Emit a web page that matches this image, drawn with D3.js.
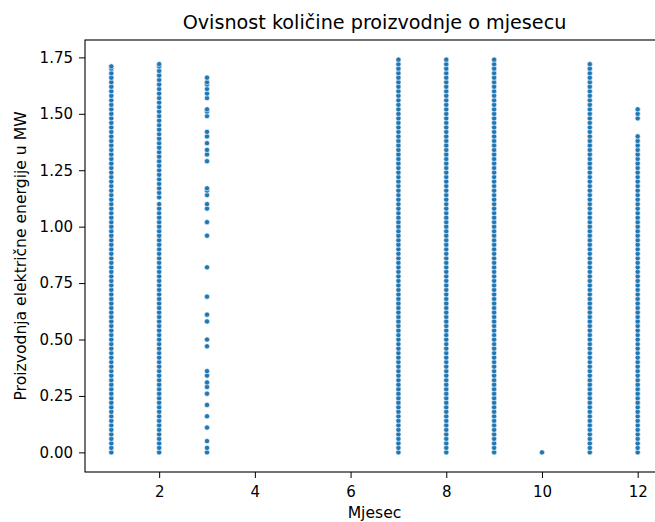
<!DOCTYPE html>
<html>
<head>
<meta charset="utf-8">
<script src="https://cdn.jsdelivr.net/npm/d3@7"></script>
<style>
  html, body { margin: 0; padding: 0; background: #fff; }
  svg { display: block; font-family: "DejaVu Sans", sans-serif; }
</style>
</head>
<body>
<svg id="chart" width="655" height="522"></svg>
<script>
// ---- Data ----
const title = "Ovisnost količine proizvodnje o mjesecu";
const xLabel = "Mjesec";
const yLabel = "Proizvodnja električne energije u MW";
const xTicks = [2, 4, 6, 8, 10, 12];
const yTicks = [0, 0.25, 0.5, 0.75, 1.0, 1.25, 1.5, 1.75];

const month1 = [0,.02,.04,.06,.08,.1,.12,.14,.16,.18,.2,.22,.24,.26,.28,.3,.32,.34,.36,.38,.4,.42,.44,.46,.48,.5,.52,.54,.56,.58,.6,.62,.64,.66,.68,.7,.72,.74,.76,.78,.8,.82,.84,.86,.88,.9,.92,.94,.96,.98,1,1.02,1.04,1.06,1.08,1.1,1.12,1.14,1.16,1.18,1.2,1.22,1.24,1.26,1.28,1.3,1.32,1.34,1.36,1.38,1.4,1.42,1.44,1.46,1.48,1.5,1.52,1.54,1.56,1.58,1.6,1.62,1.64,1.66,1.68,1.7,1.71];
const month2 = [0,.02,.04,.06,.08,.1,.12,.14,.16,.18,.2,.22,.24,.26,.28,.3,.32,.34,.36,.38,.4,.42,.44,.46,.48,.5,.52,.54,.56,.58,.6,.62,.64,.66,.68,.7,.72,.74,.76,.78,.8,.82,.84,.86,.88,.9,.92,.94,.96,.98,1,1.02,1.04,1.06,1.08,1.1,1.13,1.15,1.17,1.19,1.21,1.23,1.25,1.27,1.29,1.31,1.33,1.35,1.37,1.39,1.41,1.43,1.45,1.47,1.49,1.51,1.53,1.55,1.57,1.59,1.61,1.63,1.65,1.67,1.69,1.71,1.72];
const month3 = [0,.02,.05,.11,.16,.21,.26,.29,.31,.34,.36,.47,.5,.58,.61,.69,.82,.96,1.02,1.08,1.1,1.14,1.16,1.17,1.29,1.32,1.34,1.37,1.4,1.42,1.49,1.51,1.52,1.57,1.59,1.61,1.63,1.64,1.66];
const month7 = [0,.02,.04,.06,.08,.1,.12,.14,.16,.18,.2,.22,.24,.26,.28,.3,.32,.34,.36,.38,.4,.42,.44,.46,.48,.5,.52,.54,.56,.58,.6,.62,.64,.66,.68,.7,.72,.74,.76,.78,.8,.82,.84,.86,.88,.9,.92,.94,.96,.98,1,1.02,1.04,1.06,1.08,1.1,1.12,1.14,1.16,1.18,1.2,1.22,1.24,1.26,1.28,1.3,1.32,1.34,1.36,1.38,1.4,1.42,1.44,1.46,1.48,1.5,1.52,1.54,1.56,1.58,1.6,1.62,1.64,1.66,1.68,1.7,1.72,1.74];
const month8 = [0,.02,.04,.06,.08,.1,.12,.14,.16,.18,.2,.22,.24,.26,.28,.3,.32,.34,.36,.38,.4,.42,.44,.46,.48,.5,.52,.54,.56,.58,.6,.62,.64,.66,.68,.7,.72,.74,.76,.78,.8,.82,.84,.86,.88,.9,.92,.94,.96,.98,1,1.02,1.04,1.06,1.08,1.1,1.12,1.14,1.16,1.18,1.2,1.22,1.24,1.26,1.28,1.3,1.32,1.34,1.36,1.38,1.4,1.42,1.44,1.46,1.48,1.5,1.52,1.54,1.56,1.58,1.6,1.62,1.64,1.66,1.68,1.7,1.72,1.74];
const month9 = [0,.02,.04,.06,.08,.1,.12,.14,.16,.18,.2,.22,.24,.26,.28,.3,.32,.34,.36,.38,.4,.42,.44,.46,.48,.5,.52,.54,.56,.58,.6,.62,.64,.66,.68,.7,.72,.74,.76,.78,.8,.82,.84,.86,.88,.9,.92,.94,.96,.98,1,1.02,1.04,1.06,1.08,1.1,1.12,1.14,1.16,1.18,1.2,1.22,1.24,1.26,1.28,1.3,1.32,1.34,1.36,1.38,1.4,1.42,1.44,1.46,1.48,1.5,1.52,1.54,1.56,1.58,1.6,1.62,1.64,1.66,1.68,1.7,1.72,1.74];
const month10 = [0];
const month11 = [0,.02,.04,.06,.08,.1,.12,.14,.16,.18,.2,.22,.24,.26,.28,.3,.32,.34,.36,.38,.4,.42,.44,.46,.48,.5,.52,.54,.56,.58,.6,.62,.64,.66,.68,.7,.72,.74,.76,.78,.8,.82,.84,.86,.88,.9,.92,.94,.96,.98,1,1.02,1.04,1.06,1.08,1.1,1.12,1.14,1.16,1.18,1.2,1.22,1.24,1.26,1.28,1.3,1.32,1.34,1.36,1.38,1.4,1.42,1.44,1.46,1.48,1.5,1.52,1.54,1.56,1.58,1.6,1.62,1.64,1.66,1.68,1.7,1.72];
const month12 = [0,.02,.04,.06,.08,.1,.12,.14,.16,.18,.2,.22,.24,.26,.28,.3,.32,.34,.36,.38,.4,.42,.44,.46,.48,.5,.52,.54,.56,.58,.6,.62,.64,.66,.68,.7,.72,.74,.76,.78,.8,.82,.84,.86,.88,.9,.92,.94,.96,.98,1,1.02,1.04,1.06,1.08,1.1,1.12,1.14,1.16,1.18,1.2,1.22,1.24,1.26,1.28,1.3,1.32,1.34,1.36,1.38,1.4,1.48,1.5,1.52];

const months = [1, 2, 3, 7, 8, 9, 10, 11, 12];
const seriesByMonth = [month1, month2, month3, month7, month8, month9, month10, month11, month12];

// ---- Layout ----
const margin = { left: 85, right: 664, top: 40, bottom: 472 };
const svg = d3.select("#chart");

const x = d3.scaleLinear().domain([0.45, 12.55]).range([margin.left, margin.right]);
const y = d3.scaleLinear().domain([-0.087, 1.827]).range([margin.bottom, margin.top]);

const points = [];
months.forEach((m, i) => seriesByMonth[i].forEach(v => points.push({ m, v })));

// points
svg.append("g")
  .selectAll("circle")
  .data(points)
  .enter().append("circle")
  .attr("cx", d => x(d.m))
  .attr("cy", d => y(d.v))
  .attr("r", 2.6)
  .attr("fill", "#1f77b4")
  .attr("stroke", "#ffffff")
  .attr("stroke-width", 0.6);

// axes
const fontSize = 15;
const labelSize = 15.6;
const xAxis = svg.append("g")
  .attr("transform", `translate(0,${margin.bottom})`)
  .call(d3.axisBottom(x).tickValues(xTicks).tickFormat(d3.format("d")).tickSize(6).tickPadding(8).tickSizeOuter(0));
const yAxis = svg.append("g")
  .attr("transform", `translate(${margin.left},0)`)
  .call(d3.axisLeft(y).tickValues(yTicks).tickFormat(d3.format(".2f")).tickSize(6).tickPadding(6).tickSizeOuter(0));

[xAxis, yAxis].forEach(g => {
  g.select(".domain").remove();
  g.selectAll("text").attr("font-family", "DejaVu Sans").attr("font-size", fontSize).attr("fill", "#000");
  g.selectAll("line").attr("stroke", "#000").attr("stroke-width", 1);
});

// frame
svg.append("rect")
  .attr("x", margin.left).attr("y", margin.top)
  .attr("width", margin.right - margin.left).attr("height", margin.bottom - margin.top)
  .attr("fill", "none").attr("stroke", "#000").attr("stroke-width", 1.1);

// title
svg.append("text")
  .attr("x", (margin.left + margin.right) / 2).attr("y", 29)
  .attr("text-anchor", "middle")
  .attr("font-size", 19.2).attr("fill", "#000")
  .text(title);

// x label
svg.append("text")
  .attr("x", (margin.left + margin.right) / 2).attr("y", 518)
  .attr("text-anchor", "middle")
  .attr("font-size", labelSize).attr("fill", "#000")
  .text(xLabel);

// y label
svg.append("text")
  .attr("transform", `translate(26,${(margin.top + margin.bottom) / 2}) rotate(-90)`)
  .attr("text-anchor", "middle")
  .attr("font-size", labelSize).attr("fill", "#000")
  .text(yLabel);
</script>
</body>
</html>
